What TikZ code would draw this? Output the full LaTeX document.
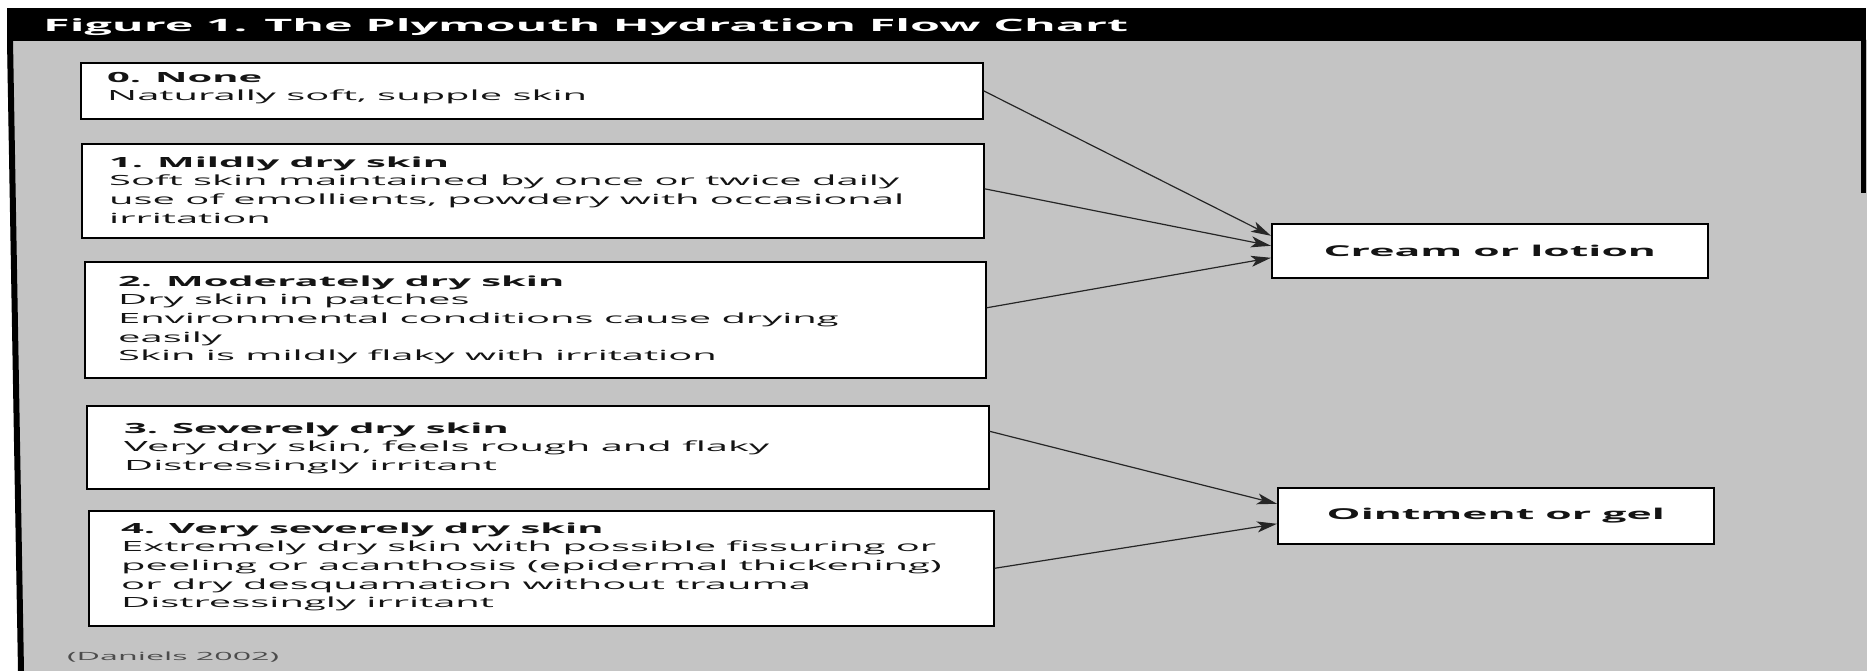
\documentclass[tikz,border=0pt]{standalone}
\usepackage{fontspec}
\setmainfont{Open Sans}[FakeStretch=2.85]
\usetikzlibrary{arrows.meta}
\definecolor{bg}{gray}{0.77}
\definecolor{ink}{gray}{0.08}
\begin{document}
\begin{tikzpicture}[x=1pt,y=-1pt,
  box/.style={draw=black, line width=1.6pt, fill=white, inner sep=0pt, anchor=north west},
  txt/.style={anchor=north west, inner sep=0pt, align=left, text=ink, font=\fontsize{14}{18.7}\selectfont},
  res/.style={box, text=ink, font=\fontsize{15}{18}\selectfont\bfseries},
  arr/.style={-{Stealth[length=20pt,width=11pt,inset=5pt]}, line width=1.2pt, draw=black!85}]
\useasboundingbox (0,0) rectangle (1867,671);
\fill[white] (0,0) rectangle (1867,671);
\fill[bg] (7,40) -- (1867,40) -- (1867,671) -- (19,671) -- cycle;
\fill[black] (7,8) rectangle (1866,41);
\fill[black] (7,40) -- (13,40) -- (24,671) -- (18,671) -- cycle;
\fill[black] (1861,40) rectangle (1866,193);
\node[anchor=base west, inner sep=0pt, text=white, font=\fontsize{17}{20}\selectfont\bfseries] (title) at (43,32) {Figure 1. The Plymouth Hydration Flow Chart};
% left boxes
\node[box, minimum width=902pt, minimum height=56pt] (b0) at (80,62) {};
\node[box, minimum width=902pt, minimum height=94pt] (b1) at (81,143) {};
\node[box, minimum width=901pt, minimum height=116pt] (b2) at (84,261) {};
\node[box, minimum width=902pt, minimum height=83pt] (b3) at (86,405) {};
\node[box, minimum width=905pt, minimum height=115pt] (b4) at (88,510) {};
\node[txt] (t0) at (107,68.9) {\strut\textbf{0. None}\\Naturally soft, supple skin};
\node[txt] (t1) at (109,153.9) {\strut\textbf{1. Mildly dry skin}\\Soft skin maintained by once or twice daily\\use of emollients, powdery with occasional\\irritation};
\node[txt] (t2) at (118,272.9) {\strut\textbf{2. Moderately dry skin}\\Dry skin in patches\\Environmental conditions cause drying\\easily\\Skin is mildly flaky with irritation};
\node[txt] (t3) at (124,419.9) {\strut\textbf{3. Severely dry skin}\\Very dry skin, feels rough and flaky\\Distressingly irritant};
\node[txt] (t4) at (121,519.9) {\strut\textbf{4. Very severely dry skin}\\Extremely dry skin with possible fissuring or\\peeling or acanthosis (epidermal thickening)\\or dry desquamation without trauma\\Distressingly irritant};
% right boxes
\node[res, minimum width=436pt, minimum height=54pt] (cream) at (1271,223) {Cream or lotion};
\node[res, minimum width=436pt, minimum height=56pt] (oint) at (1277,487) {Ointment or gel};
% arrows
\draw[arr] (b0.east) -- ([yshift=15pt]cream.west);
\draw[arr] ([yshift=2pt]b1.east) -- ([yshift=5pt]cream.west);
\draw[arr] ([yshift=12pt]b2.east) -- ([yshift=-7pt]cream.west);
\draw[arr] ([yshift=16pt]b3.east) -- ([yshift=12pt]oint.west);
\draw[arr] (b4.east) -- ([yshift=-8pt]oint.west);
\node[anchor=base west, inner sep=0pt, text=black!70, font=\fontsize{11.3}{13}\selectfont] (src) at (67,660) {(Daniels 2002)};
\end{tikzpicture}
\end{document}
